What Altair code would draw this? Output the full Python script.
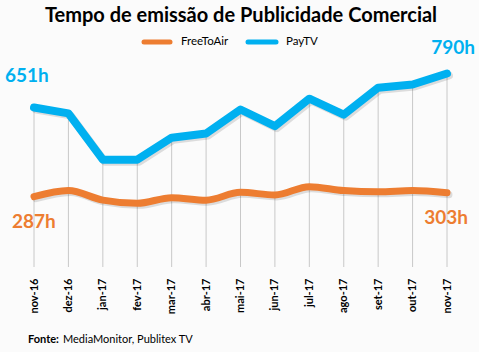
import altair as alt
import pandas as pd

months = ["nov-16", "dez-16", "jan-17", "fev-17", "mar-17", "abr-17", "mai-17",
          "jun-17", "jul-17", "ago-17", "set-17", "out-17", "nov-17"]
paytv = [651, 627, 438, 438, 528, 545, 643, 575, 687, 622, 732, 745, 790]
freetoair = [287, 312, 273, 260, 283, 273, 305, 294, 328, 312, 307, 312, 303]

BLUE = "#00B0F0"
ORANGE = "#ED7D31"
FONT = "Lato"

df = pd.DataFrame({"month": months, "PayTV": paytv, "FreeToAir": freetoair})
df["order"] = range(len(df))

xs = alt.X("month:N", sort=months, scale=alt.Scale(type="point", range=[34, 447], padding=0),
           axis=alt.Axis(title=None, labelAngle=-90, labelAlign="right", labelBaseline="middle",
                         labelFont=FONT, labelFontWeight="bold", labelFontSize=11,
                         labelColor="#000000", labelPadding=11, ticks=False, domain=False,
                         grid=False))
ys = alt.Scale(domain=[0, 1090], nice=False, zero=True)

base = alt.Chart(df)

rules = base.mark_rule(color="#c8c8c8", strokeWidth=1).encode(
    x=xs, y=alt.Y("PayTV:Q", scale=ys, axis=None), y2=alt.value(267))

shadow_blue = base.mark_line(color="#000000", opacity=0.12, strokeWidth=8, strokeCap="round",
                             strokeJoin="round", xOffset=2, yOffset=2).encode(
    x=xs, y=alt.Y("PayTV:Q", scale=ys, axis=None), order="order:Q")
shadow_orange = base.mark_line(color="#000000", opacity=0.12, strokeWidth=7, strokeCap="round",
                               interpolate="monotone", xOffset=2, yOffset=2).encode(
    x=xs, y=alt.Y("FreeToAir:Q", scale=ys, axis=None), order="order:Q")

line_blue = base.mark_line(color=BLUE, strokeWidth=8, strokeCap="round", strokeJoin="round").encode(
    x=xs, y=alt.Y("PayTV:Q", scale=ys, axis=None), order="order:Q")
line_orange = base.mark_line(color=ORANGE, strokeWidth=7, strokeCap="round",
                             interpolate="monotone").encode(
    x=xs, y=alt.Y("FreeToAir:Q", scale=ys, axis=None), order="order:Q")

# end labels
first = df.iloc[[0]]
last = df.iloc[[-1]]
lab_blue_first = alt.Chart(first).mark_text(color=BLUE, font=FONT, fontWeight="bold", fontSize=19,
                                             align="left", baseline="alphabetic").encode(
    x=alt.value(5), y=alt.value(82), text=alt.Text("label:N")).transform_calculate(
    label="datum.PayTV + 'h'")
lab_blue_last = alt.Chart(last).mark_text(color=BLUE, font=FONT, fontWeight="bold", fontSize=19,
                                           align="right", baseline="alphabetic").encode(
    x=alt.value(475), y=alt.value(54), text=alt.Text("label:N")).transform_calculate(
    label="datum.PayTV + 'h'")
lab_or_first = alt.Chart(first).mark_text(color=ORANGE, font=FONT, fontWeight="bold", fontSize=19,
                                           align="left", baseline="alphabetic").encode(
    x=alt.value(12), y=alt.value(228), text=alt.Text("label:N")).transform_calculate(
    label="datum.FreeToAir + 'h'")
lab_or_last = alt.Chart(last).mark_text(color=ORANGE, font=FONT, fontWeight="bold", fontSize=19,
                                         align="right", baseline="alphabetic").encode(
    x=alt.value(468), y=alt.value(224), text=alt.Text("label:N")).transform_calculate(
    label="datum.FreeToAir + 'h'")

# title
title_df = pd.DataFrame({"t": ["Tempo de emissão de Publicidade Comercial"]})
title = alt.Chart(title_df).mark_text(font=FONT, fontWeight="bold", fontSize=20, color="#000000",
                                      align="center", baseline="alphabetic").encode(
    x=alt.value(241), y=alt.value(22), text="t:N")

# legend
leg_df = pd.DataFrame({"name": ["FreeToAir", "PayTV"], "x1": [144, 248], "x2": [170, 276],
                       "tx": [181, 286], "col": [ORANGE, BLUE]})
leg_lines = alt.Chart(leg_df).mark_rule(strokeWidth=5, strokeCap="round").encode(
    x=alt.X("x1:Q", scale=None), x2="x2:Q", y=alt.value(42),
    color=alt.Color("col:N", scale=None))
leg_text = alt.Chart(leg_df).mark_text(font=FONT, fontSize=11.5, color="#000000", align="left",
                                       baseline="middle").encode(
    x=alt.X("tx:Q", scale=None), y=alt.value(42), text="name:N")

# source
src_df = pd.DataFrame({"a": ["Fonte:"], "b": ["MediaMonitor, Publitex TV"]})
src_a = alt.Chart(src_df).mark_text(font=FONT, fontWeight="bold", fontSize=11, color="#000000",
                                    align="left", baseline="alphabetic").encode(
    x=alt.value(28), y=alt.value(343), text="a:N")
src_b = alt.Chart(src_df).mark_text(font=FONT, fontSize=11, color="#000000",
                                    align="left", baseline="alphabetic").encode(
    x=alt.value(63), y=alt.value(343), text="b:N")

chart = alt.layer(
    rules, shadow_orange, shadow_blue, line_orange, line_blue,
    lab_blue_first, lab_blue_last, lab_or_first, lab_or_last,
    title, leg_lines, leg_text, src_a, src_b
).resolve_scale(x="shared").properties(
    width=479, height=267,
    autosize=alt.AutoSizeParams(type="none"),
    padding={"left": 0, "top": 0, "right": 0, "bottom": 85},
    background="#FBFBFB"
).configure_view(stroke=None)

chart.save("out.html", embed_options={"renderer": "svg", "actions": False})
